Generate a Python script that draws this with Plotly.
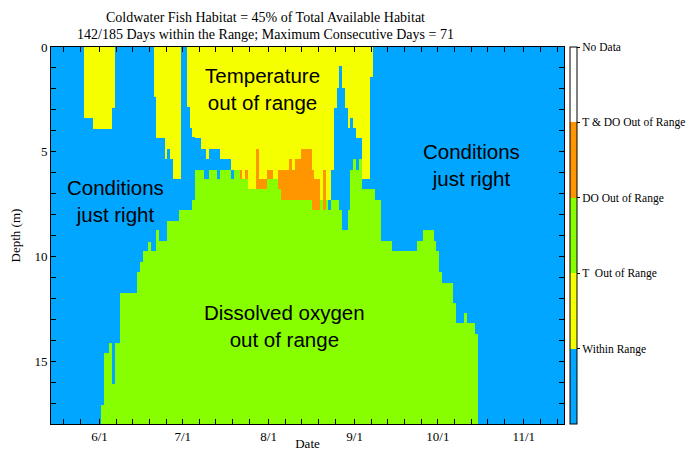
import numpy as np
import pandas as pd
import plotly.graph_objects as go

# ---------------- data ----------------
start_date = "2021-05-15"          # first daily profile
max_depth = 18.0                   # m

# depth (m) down to which temperature is out of range (0 = none), one value per day
temp_limit_depth = [
    0, 0, 0, 0, 0, 0, 0, 0, 0, 0,
    0, 0, 3.4, 3.4, 3.4, 3.9, 3.9, 3.9, 3.9, 3.9,
    3.9, 3.9, 2.9, 0, 0, 0, 0, 0, 0, 0,
    0, 0, 0, 0, 0, 0, 0, 2.4, 4.35, 4.35,
    4.35, 5.35, 4.85, 5.35, 6.3, 6.3, 6.3, 0, 0, 2.85,
    3.85, 4.3, 4.35, 4.35, 4.85, 4.85, 5.35, 4.85, 4.85, 4.85,
    4.85, 5.35, 5.35, 5.35, 5.35, 5.85, 5.85, 5.85, 6.3, 6.3,
    6.3, 6.8, 6.8, 6.8, 6.8, 6.8, 6.8, 6.8, 6.3, 6.3,
    6.3, 6.3, 6.8, 7.3, 7.3, 7.3, 7.3, 7.3, 7.3, 7.3,
    7.3, 7.3, 7.3, 7.3, 7.8, 7.8, 7.8, 7.3, 7.8, 7.3,
    7.3, 5.85, 2.9, 1.95, 0.9, 1.95, 2.9, 3.85, 3.4, 3.85,
    4.35, 4.35, 6.3, 6.3, 6.3, 1.45, 0, 0, 0, 0,
    0, 0, 0, 0, 0, 0, 0, 0, 0, 0,
    0, 0, 0, 0, 0, 0, 0, 0, 0, 0,
    0, 0, 0, 0, 0, 0, 0, 0, 0, 0,
    0, 0, 0, 0, 0, 0, 0, 0, 0, 0,
    0, 0, 0, 0, 0, 0, 0, 0, 0, 0,
    0, 0, 0, 0, 0, 0, 0, 0, 0, 0,
    0, 0, 0, 0, 0,
]

# depth (m) below which dissolved oxygen is out of range (18 = none), one value per day
do_limit_depth = [
    18, 18, 18, 18, 18, 18, 18, 18, 18, 18,
    18, 18, 18, 18, 18, 18, 18, 18, 17.1, 14.6,
    14.6, 14.15, 16.1, 14.15, 14.15, 11.75, 11.75, 11.75, 11.75, 11.75,
    11.75, 10.75, 10.25, 9.75, 9.75, 9.3, 9.75, 9.75, 8.75, 9.25,
    9.25, 9.25, 8.3, 8.3, 8.3, 8.3, 7.8, 7.8, 7.8, 7.8,
    7.8, 7.3, 5.85, 5.85, 5.85, 6.3, 6.3, 5.85, 5.85, 5.85,
    6.3, 5.85, 5.85, 5.85, 5.85, 6.3, 5.85, 5.85, 5.85, 6.3,
    5.85, 6.8, 6.8, 6.8, 4.85, 6.3, 6.3, 6.3, 5.85, 5.85,
    6.3, 6.3, 5.85, 5.85, 5.85, 5.85, 5.35, 5.85, 5.35, 5.35,
    4.85, 4.85, 4.85, 4.85, 5.85, 6.3, 6.3, 7.3, 5.85, 7.3,
    7.8, 7.3, 7.3, 7.3, 7.8, 8.75, 8.75, 7.8, 5.85, 5.35,
    5.85, 5.35, 6.8, 6.8, 6.8, 6.8, 6.8, 7.3, 7.3, 9.25,
    9.25, 9.25, 9.25, 9.75, 9.75, 9.75, 9.75, 9.75, 9.75, 9.75,
    9.75, 9.75, 9.25, 9.25, 8.75, 8.75, 8.75, 8.75, 9.25, 9.75,
    10.75, 11.25, 11.25, 11.25, 11.25, 12.2, 13.2, 13.2, 13.2, 12.7,
    13.2, 13.2, 13.2, 13.7, 18, 18, 18, 18, 18, 18,
    18, 18, 18, 18, 18, 18, 18, 18, 18, 18,
    18, 18, 18, 18, 18, 18, 18, 18, 18, 18,
    18, 18, 18, 18, 18,
]

category_names = ["Within Range", "T  Out of Range", "DO Out of Range",
                  "T & DO Out of Range", "No Data"]
category_colors = ["#00A6FF", "#F5FF00", "#88FF00", "#FF9600", "#FFFFFF"]

title_lines = ["Coldwater Fish Habitat = 45% of Total Available Habitat",
               "142/185 Days within the Range; Maximum Consecutive Days = 71"]

tick_months = [5, 6, 7, 8, 9, 10, 11]
tick_days = [1, 7, 13, 19, 25]

# ---------------- build grid ----------------
depth_step = 0.05
dates = pd.date_range(start_date, periods=len(temp_limit_depth), freq="D")
depths = np.arange(depth_step / 2, max_depth, depth_step)
T = np.array(temp_limit_depth, dtype=float)[None, :]
G = np.array(do_limit_depth, dtype=float)[None, :]
D = depths[:, None]
t_bad = D < T
do_bad = D >= G
code = np.where(t_bad & do_bad, 3, np.where(t_bad, 1, np.where(do_bad, 2, 0))) + 0.5

n = len(category_colors)
colorscale = []
for i, c in enumerate(category_colors):
    colorscale.append([i / n, c])
    colorscale.append([(i + 1) / n, c])

x_start = dates[0] - pd.Timedelta(hours=12)
x_end = dates[-1] + pd.Timedelta(hours=12)
tickvals, ticktext = [], []
for m in tick_months:
    for d in tick_days:
        ts = pd.Timestamp(year=dates[0].year, month=m, day=d)
        if x_start <= ts <= x_end:
            tickvals.append(ts)
            ticktext.append(f"{m}/{d}" if d == 1 else "")

serif = "Liberation Serif, Times New Roman, serif"
sans = "Liberation Sans, Arial, sans-serif"

fig = go.Figure(go.Heatmap(
    x=dates, y=depths, z=code, zmin=0, zmax=n,
    colorscale=colorscale, zsmooth=False, hoverinfo="skip",
    colorbar=dict(
        thickness=7, len=1, lenmode="fraction", y=0.5, yanchor="middle",
        x=1.0117, xanchor="left", xpad=0, ypad=0,
        outlinewidth=1, outlinecolor="black",
        tickmode="array", tickvals=list(range(1, n + 1)), ticktext=category_names,
        ticks="outside", ticklen=3, tickcolor="black",
        tickfont=dict(family=serif, size=11.5, color="black"),
    ),
))

ann_font = dict(family=sans, size=20.5, color="black")
labels = [
    (0.413, 0.888, "Temperature<br>out of range"),
    (0.125, 0.591, "Conditions<br>just right"),
    (0.819, 0.686, "Conditions<br>just right"),
    (0.456, 0.260, "Dissolved oxygen<br>out of range"),
]
for xp, yp, txt in labels:
    fig.add_annotation(x=xp, y=yp, xref="paper", yref="paper", text=txt,
                       showarrow=False, font=ann_font, align="center",
                       xanchor="center", yanchor="middle")

# two-line title (pixel centres at y = 17 and 34, x = 265)
title_font = dict(family=serif, size=14, color="black")
for line, py in zip(title_lines, [17, 34]):
    fig.add_annotation(x=(265 - 51) / 513, y=(424 - py) / 377.3, xref="paper",
                       yref="paper", text=line, showarrow=False, font=title_font,
                       xanchor="center", yanchor="middle")

fig.update_layout(
    width=688, height=451,
    margin=dict(l=51, r=124, t=47, b=27, autoexpand=False),
    paper_bgcolor="white", plot_bgcolor="white",
    xaxis=dict(type="date", range=[x_start, x_end], tickmode="array",
               tickvals=tickvals, ticktext=ticktext, ticks="inside", ticklen=5,
               tickcolor="black", showline=True, linecolor="black", linewidth=1,
               mirror="ticks", showgrid=False, zeroline=False, automargin=False,
               tickfont=dict(family=serif, size=13, color="black"),
               title=dict(text="Date", standoff=8,
                          font=dict(family=serif, size=13, color="black"))),
    yaxis=dict(range=[max_depth, 0], tickmode="array",
               tickvals=list(range(0, 18)),
               ticktext=[str(v) if v % 5 == 0 else "" for v in range(0, 18)],
               ticks="inside", ticklen=5, tickcolor="black",
               showline=True, linecolor="black", linewidth=1, mirror="ticks",
               showgrid=False, zeroline=False, automargin=False,
               tickfont=dict(family=serif, size=13, color="black"),
               title=dict(text="Depth (m)", standoff=10,
                          font=dict(family=serif, size=13, color="black"))),
)

fig.write_html("out.html")
